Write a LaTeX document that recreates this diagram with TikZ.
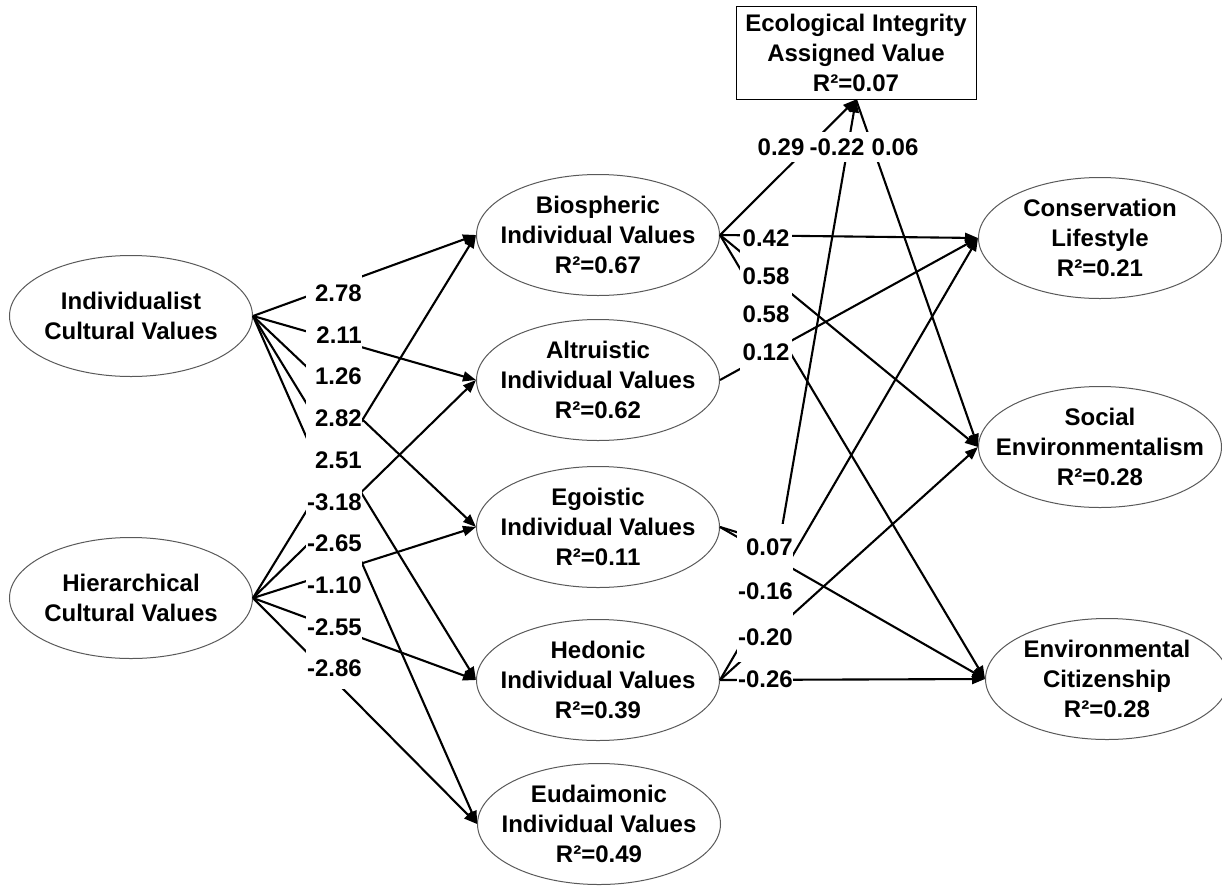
\documentclass[tikz,border=0pt]{standalone}
\usepackage{fontspec}
\setmainfont{Liberation Sans}
\usetikzlibrary{shapes.geometric,arrows.meta}
\newcommand\dgfont{\fontsize{24}{30}\selectfont\bfseries}
\begin{document}
\begin{tikzpicture}[x=1pt,y=-1pt,
  lat/.style={ellipse, draw=black!65, line width=1pt, minimum width=243pt, minimum height=121pt, inner sep=0pt},
  lattext/.style={align=center, font=\dgfont, inner sep=0pt},
  arr/.style={line width=2.1pt, -{Triangle[length=13pt,width=10pt]}},
  lbl/.style={fill=white, inner sep=0pt, font=\dgfont, text height=17pt, text depth=0pt},
  lblL/.style={lbl, text width=56pt, align=right, minimum height=42pt, anchor=east},
  lblR/.style={lbl, minimum width=52pt, minimum height=38pt},
  lblE/.style={lbl, text width=56pt, align=right, anchor=east},
  lblT/.style={lbl, minimum height=30pt}
]
\useasboundingbox (0,0) rectangle (1222,886);

% latent nodes
\node[lat, label={[lattext]center:{Individualist\\Cultural Values}}] (ind) at (131,316) {};
\node[lat, label={[lattext]center:{Hierarchical\\Cultural Values}}] (hier) at (131,598) {};
\node[lat, label={[lattext]center:{Biospheric\\Individual Values\\R²=0.67}}] (bio) at (598,235) {};
\node[lat, label={[lattext]center:{Altruistic\\Individual Values\\R²=0.62}}] (alt) at (598,380) {};
\node[lat, label={[lattext]center:{Egoistic\\Individual Values\\R²=0.11}}] (ego) at (598,527) {};
\node[lat, label={[lattext]center:{Hedonic\\Individual Values\\R²=0.39}}] (hed) at (598,680) {};
\node[lat, label={[lattext]center:{Eudaimonic\\Individual Values\\R²=0.49}}] (eud) at (599,824) {};
\node[lat, label={[lattext]center:{Conservation\\Lifestyle\\R²=0.21}}] (cons) at (1100,238) {};
\node[lat, label={[lattext]center:{Social\\Environmentalism\\R²=0.28}}] (soc) at (1100,447) {};
\node[lat, label={[lattext]center:{Environmental\\Citizenship\\R²=0.28}}] (cit) at (1107,679) {};
\node[draw, line width=1pt, minimum width=240pt, minimum height=93pt, align=center, font=\dgfont, inner sep=0pt] (eco) at (856,52.5) {Ecological Integrity\\Assigned Value\\R²=0.07};

% paths from cultural values
\foreach \t in {bio,alt,ego,hed,eud} {
  \draw[arr] (ind.east) -- (\t.west);
  \draw[arr] (hier.east) -- (\t.west);
}
% paths from individual values
\draw[arr] (bio.east) -- (eco.south);
\draw[arr] (bio.east) -- (cons.west);
\draw[arr] (bio.east) -- (soc.west);
\draw[arr] (bio.east) -- (cit.west);
\draw[arr] (alt.east) -- (cons.west);
\coordinate (egobend) at (779,545);
\draw[arr] (ego.east) -- (egobend) -- (eco.south);
\draw[arr] (ego.east) -- (cit.west);
\draw[arr] (hed.east) -- (cons.west);
\draw[arr] (hed.east) -- (soc.west);
\draw[arr] (hed.east) -- (cit.west);
\draw[arr] (eco.south) -- (soc.west);

% coefficient labels, left column
\node[lblL] (c1) at (362,293) {2.78};
\node[lblL] (c2) at (362,334.7) {2.11};
\node[lblL] (c3) at (362,376.4) {1.26};
\node[lblL] (c4) at (362,418.1) {2.82};
\node[lblL] (c5) at (362,459.8) {2.51};
\node[lblL] (c6) at (362,501.5) {-3.18};
\node[lblL] (c7) at (362,543.2) {-2.65};
\node[lblL] (c8) at (362,584.9) {-1.10};
\node[lblL] (c9) at (362,626.6) {-2.55};
\node[lblL] (c10) at (362,668.3) {-2.86};

% coefficient labels, biospheric/altruistic group
\node[lblR] (d1) at (766,238) {0.42};
\node[lblR] (d2) at (766,276) {0.58};
\node[lblR] (d3) at (766,314) {0.58};
\node[lblR] (d4) at (766,352) {0.12};

% coefficient labels, egoistic/hedonic group
\node[lblE, minimum height=46pt] (e1) at (793,546.5) {0.07};
\node[lblE, minimum height=46pt] (e2) at (793,591) {-0.16};
\node[lblE, minimum height=49pt] (e3) at (793,637) {-0.20};
\node[lblE, inner ysep=2pt] (e4) at (793,679) {-0.26};

% coefficient labels, ecological integrity
\node[lblT, minimum width=50pt] (f1) at (781,147) {0.29};
\node[lblT, minimum width=62pt] (f2) at (837,147) {-0.22};
\node[lblT, minimum width=54pt] (f3) at (895,147) {0.06};
\end{tikzpicture}
\end{document}
